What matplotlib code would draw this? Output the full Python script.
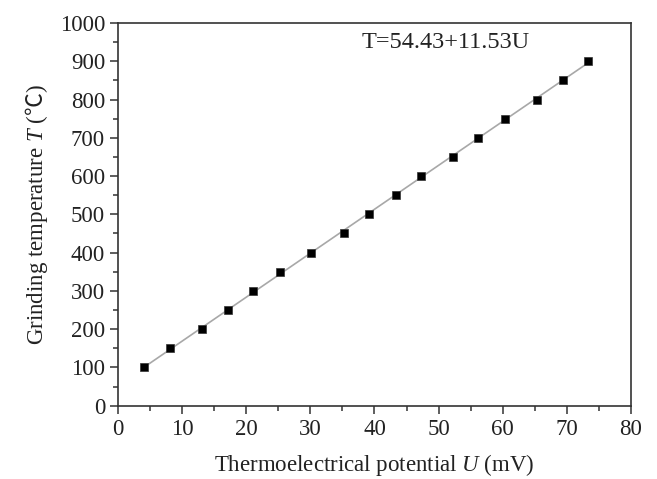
import matplotlib
matplotlib.use("Agg")
import matplotlib.pyplot as plt
import numpy as np
from matplotlib.ticker import MultipleLocator

# data
U_mV = [4.0, 8.1, 13.05, 17.1, 21.1, 25.2, 30.1, 35.2, 39.2, 43.3,
        47.2, 52.2, 56.1, 60.3, 65.4, 69.4, 73.4]
T_C = [100, 150, 200, 250, 300, 350, 400, 450, 500, 550,
       600, 650, 700, 750, 800, 850, 900]
fit_label = "T=54.43+11.53U"

plt.rcParams.update({
    "font.family": ["Liberation Serif", "DejaVu Serif", "DejaVu Sans", "Noto Sans CJK SC"],
    "mathtext.fontset": "custom",
    "mathtext.rm": "Liberation Serif",
    "mathtext.it": "Liberation Serif:italic",
    "mathtext.sf": "Noto Sans CJK SC",
})

fig = plt.figure(figsize=(6.57, 4.79), dpi=100)
ax = fig.add_axes([0.180, 0.153, 0.780, 0.799])

# fitted line over the data range
u = np.array(U_mV)
t = np.array(T_C)
slope, icpt = np.polyfit(u, t, 1)
uu = np.array([u.min(), u.max()])
ax.plot(uu, icpt + slope * uu, color="#a8a8a8", linewidth=1.2, zorder=2)
ax.plot(u, t, linestyle="none", marker="s", markersize=6,
        color="black", markeredgecolor="#333333", markeredgewidth=0.5, zorder=3)

ax.text(38, 948, fit_label, fontsize=17.5, ha="left", va="center", color="#222222")

ax.set_xlim(0, 80)
ax.set_ylim(0, 1000)
ax.xaxis.set_major_locator(MultipleLocator(10))
ax.xaxis.set_minor_locator(MultipleLocator(5))
ax.yaxis.set_major_locator(MultipleLocator(100))
ax.yaxis.set_minor_locator(MultipleLocator(50))
ax.tick_params(which="both", direction="out", top=False, right=False,
               width=1.1, colors="#333333", labelcolor="#222222")
ax.tick_params(which="major", length=6, labelsize=16.5)
ax.tick_params(which="minor", length=3.5)
for sp in ax.spines.values():
    sp.set_linewidth(1.2)
    sp.set_color("#333333")

ax.set_xlabel(r"Thermoelectrical potential $\it{U}$ (mV)", fontsize=16.5,
              color="#222222", labelpad=9)
ax.set_ylabel(r"Grinding temperature $\it{T}$ ($\mathsf{℃}$)", fontsize=16.5,
              color="#222222", labelpad=7)

fig.savefig("out.png", dpi=100)
